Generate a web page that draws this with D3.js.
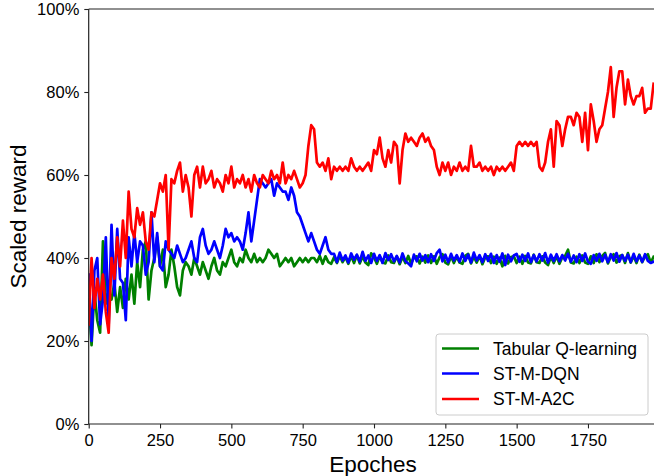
<!DOCTYPE html>
<html>
<head>
<meta charset="utf-8">
<script src="https://cdn.jsdelivr.net/npm/d3@7"></script>
<style>
  html, body { margin: 0; padding: 0; background: #fff; }
  svg { display: block; font-family: "Liberation Sans", Arial, sans-serif; }
</style>
</head>
<body>
<svg id="chart" width="654" height="476"></svg>
<script>
// ---- data (values in %, one value every 10 epochs starting at 0) ----
const epochStep = 10;
const seriesNames = ["Tabular Q-learning", "ST-M-DQN", "ST-M-A2C"];
const seriesColors = ["#008000", "#0000ff", "#ff0000"];
const xTicks = [0, 250, 500, 750, 1000, 1250, 1500, 1750];
const yTicks = [0, 20, 40, 60, 80, 100];

const tabularQ = [
  30,19,32,25,22,44,29,32,30,34,
  27,33,28,35,30,36,29,39,33,42,
  44,30,37,40,45,38,42,33,36,42,
  38,33,31,37,39,38,36,40,38,36,
  39,37,35,38,40,37,36,39,38,40,
  42,39,38,40,39,42,40,39,41,39,
  40,39,40,42,41,40,41,38,39,40,
  39,40,38,39,40,39,40,39,40,40,
  39,40.5,38.6,40.4,39.0,38.6,40.2,38.8,40.5,39.0,
  40.2,38.6,40.5,38.8,40.7,38.7,40.4,38.9,38.3,41.1,
  40.2,38.6,40.5,38.9,38.7,40.6,39.0,38.8,40.4,38.5,
  40.3,38.8,40.5,38.6,40.2,40.4,38.7,40.3,38.9,40.6,
  38.8,40.4,38.6,40.2,40.9,38.9,38.5,40.4,38.8,40.3,
  38.9,38.6,40.5,41.0,38.7,40.3,38.9,40.5,38.5,40.2,
  40.4,38.8,40.3,38.6,40.1,38.0,40.5,38.7,40.2,40.4,
  38.8,40.3,38.6,40.5,38.9,38.7,40.8,39.0,38.8,40.4,
  38.9,38.3,40.3,38.8,40.4,38.6,40.2,40.5,42.0,38.9,
  38.7,40.3,38.8,40.6,38.9,38.6,40.4,38.8,40.9,39.0,
  40.5,41.2,38.7,40.3,40.9,38.9,40.4,40.7,38.8,41.2,
  38.9,40.5,38.8,40.8,39.0,40.4,40.9,38.9,40.3
];

const stmDQN = [
  36,20,37,40,24,30,45,24,48,31,
  47,35,34,25,45,38,46,39,44,43,
  36,39,51,39,46,38,37,44,42,41,
  40,43,41,39,40,42,44,40,39,45,
  47,43,41,42,44,42,40,43,47,45,
  46,44,45,44,42,46,51,44,49,54,
  59,58,57,58,59,55,58,57,56,56,
  54,57,55,51,50,48,46,44,46,44,
  42,41,43,45,42,41,41.0,39.0,41.3,39.4,
  40.6,38.9,41.1,39.6,40.8,39.1,41.5,39.3,40.6,38.8,
  41.0,39.3,40.7,38.8,41.2,39.5,40.9,39.2,40.5,38.9,
  41.1,39.3,38.7,38.0,40.8,39.2,41.0,39.4,40.7,39.0,
  40.9,39.3,41.2,42.0,39.2,40.8,39.0,41.0,39.4,40.7,
  39.1,41.1,39.3,40.8,38.9,41.3,39.4,40.7,39.0,40.9,
  39.3,41.0,38.8,40.7,39.1,41.1,38.3,40.8,39.2,40.6,
  41.0,39.1,40.8,39.3,41.1,39.0,40.7,39.2,40.9,39.4,
  41.2,38.9,40.8,39.3,40.9,39.2,40.7,39.4,41.0,39.1,
  40.6,39.0,40.9,39.3,41.1,39.1,38.6,40.7,39.3,41.0,
  39.2,40.8,39.0,40.9,39.4,41.2,39.1,40.7,39.3,40.8,
  39.0,41.0,39.2,40.6,39.1,40.9,39.3,38.8,39.1
];

const stmA2C = [
  24,40,28,35,30,36,27,22,40,35,
  45,38,49,40,56,47,45,52,48,51,
  44,42,51,50,54,58,56,60,42,59,
  58,61,63,56,60,57,50,60,62,57,
  62,58,59,61,57,59,58,56,60,58,
  62,57,59,58,60,57,59,56,60,58,
  57,60,59,58,61,59,60,58,63,58,
  60,59,61,59,57,58,60,67,72,71,
  63,62,63,61,64,59,62,61,62,61,
  62,61,64,62,61,62,61,62,63,61,
  66,65,69,64,62,66,63,68,67,58,
  66,70,68,69,68,67,69,70,68,69,
  67,66,62,60,63,61,63,60,62,61,
  63,61,62,61,67,62,62,63,61,62,
  61,62,60,62,61,62,61,62,63,61,
  67,68,67,68,67,68,67,68,62,61,
  63,68,71,62,73,72,67,71,74,74,
  72,75,74,68,75,66,77,73,68,71,
  72,76,80,86,74,81,85,85,77,83,
  79,77,79,79,81,75,76,76,82
];

const allSeries = [tabularQ, stmDQN, stmA2C];

// ---- layout ----
const svg = d3.select("#chart");
const plotLeft = 88.7, plotTop = 9, plotBottom = 424;
const xMax = 1985;
const x = d3.scaleLinear().domain([0, xMax]).range([plotLeft, plotLeft + xMax * 0.2853]);
const y = d3.scaleLinear().domain([0, 100]).range([plotBottom, plotTop]);

svg.append("defs").append("clipPath").attr("id", "clip")
  .append("rect").attr("x", plotLeft).attr("y", plotTop).attr("width", 654 - plotLeft).attr("height", plotBottom - plotTop);

// lines
const line = d3.line()
  .x((d, i) => x(i * epochStep))
  .y(d => y(d));

const g = svg.append("g").attr("clip-path", "url(#clip)");
allSeries.forEach((s, k) => {
  g.append("path")
    .datum(s)
    .attr("fill", "none")
    .attr("stroke", seriesColors[k])
    .attr("stroke-width", 2.7)
    .attr("stroke-linejoin", "round")
    .attr("stroke-linecap", "square")
    .attr("d", line);
});

// axes
const fontSize = "16.5px";
const xAxis = d3.axisBottom(x).tickValues(xTicks).tickSize(4.4).tickPadding(5.6).tickFormat(d3.format("d"));
const yAxis = d3.axisLeft(y).tickValues(yTicks).tickSize(4.4).tickPadding(5).tickFormat(d => d + "%");

const gx = svg.append("g").attr("transform", `translate(0,${plotBottom})`).call(xAxis);
const gy = svg.append("g").attr("transform", `translate(${plotLeft},0)`).call(yAxis);
[gx, gy].forEach(a => {
  a.select(".domain").remove();
  a.selectAll(".tick line").attr("stroke", "#222").attr("stroke-width", 1.1);
  a.selectAll(".tick text").attr("fill", "#000").style("font-size", fontSize)
    .style("font-family", '"Liberation Sans", Arial, sans-serif');
});

// spines
svg.append("line").attr("x1", plotLeft).attr("x2", plotLeft).attr("y1", plotTop).attr("y2", plotBottom)
  .attr("stroke", "#222").attr("stroke-width", 1.2);
svg.append("line").attr("x1", plotLeft).attr("x2", 654).attr("y1", plotBottom).attr("y2", plotBottom)
  .attr("stroke", "#222").attr("stroke-width", 1.2);
svg.append("line").attr("x1", plotLeft).attr("x2", 654).attr("y1", plotTop).attr("y2", plotTop)
  .attr("stroke", "#222").attr("stroke-width", 1.2);

// axis titles
svg.append("text").attr("x", 373).attr("y", 472).attr("text-anchor", "middle")
  .style("font-size", "22.5px").attr("fill", "#000").text("Epoches");
svg.append("text").attr("transform", `translate(25.5,${(plotTop + plotBottom) / 2}) rotate(-90)`)
  .attr("text-anchor", "middle").style("font-size", "22.5px").attr("fill", "#000").text("Scaled reward");

// legend
const lg = svg.append("g");
lg.append("rect").attr("x", 436).attr("y", 334).attr("width", 212).attr("height", 81)
  .attr("rx", 3).attr("fill", "#fff").attr("fill-opacity", 0.85)
  .attr("stroke", "#cccccc").attr("stroke-width", 1);
const rowsY = [348.5, 373.5, 399];
seriesNames.forEach((name, k) => {
  lg.append("line").attr("x1", 442).attr("x2", 479).attr("y1", rowsY[k]).attr("y2", rowsY[k])
    .attr("stroke", seriesColors[k]).attr("stroke-width", 2.7);
  lg.append("text").attr("x", 493).attr("y", rowsY[k]).attr("dy", "0.35em")
    .style("font-size", "17.5px").attr("fill", "#000").text(name);
});
</script>
</body>
</html>
